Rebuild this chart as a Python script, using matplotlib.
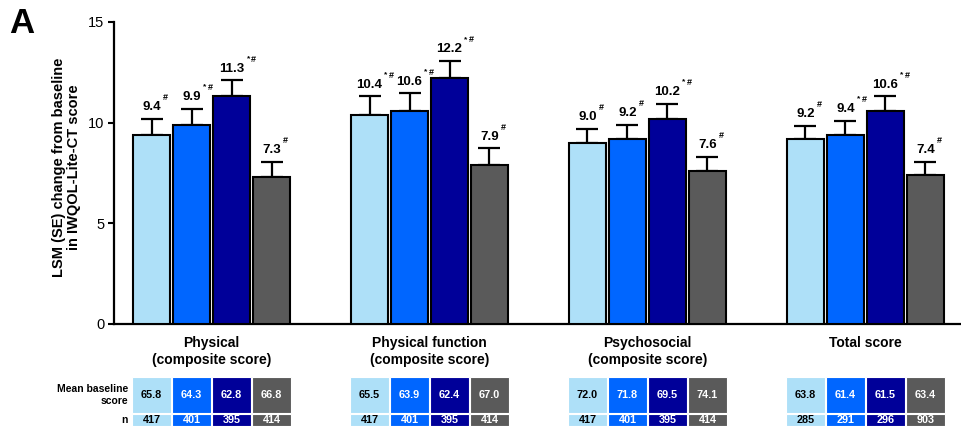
import numpy as np
import matplotlib
matplotlib.use('Agg')
import matplotlib.pyplot as plt
from matplotlib.patches import Rectangle

plt.rcParams['font.family'] = ['Liberation Sans', 'DejaVu Sans']

# data
categories = ['Physical\n(composite score)', 'Physical function\n(composite score)',
              'Psychosocial\n(composite score)', 'Total score']
colors = ['#aee0f8', '#0066ff', '#000099', '#5a5a5a']

lsm = [[9.4, 9.9, 11.3, 7.3],
       [10.4, 10.6, 12.2, 7.9],
       [9.0, 9.2, 10.2, 7.6],
       [9.2, 9.4, 10.6, 7.4]]
se = [[0.8, 0.8, 0.8, 0.75],
      [0.9, 0.86, 0.87, 0.83],
      [0.7, 0.7, 0.75, 0.7],
      [0.65, 0.7, 0.7, 0.65]]
marks = [['#', '*#', '*#', '#'],
         ['*#', '*#', '*#', '#'],
         ['#', '#', '*#', '#'],
         ['#', '*#', '*#', '#']]

baseline = [[65.8, 64.3, 62.8, 66.8],
            [65.5, 63.9, 62.4, 67.0],
            [72.0, 71.8, 69.5, 74.1],
            [63.8, 61.4, 61.5, 63.4]]
n_pts = [[417, 401, 395, 414],
         [417, 401, 395, 414],
         [417, 401, 395, 414],
         [285, 291, 296, 903]]

# layout
group_gap = 5.45
offsets = np.array([-1.5, -0.5, 0.5, 1.5])
centers = np.arange(4) * group_gap
xlim = (-2.44, 18.74)

fig = plt.figure(figsize=(9.61, 4.34), dpi=100)
ax = fig.add_axes([0.1186, 0.2535, 0.8814, 0.6959])

for g in range(4):
    xs = centers[g] + offsets
    ax.bar(xs, lsm[g], width=0.925, color=colors, edgecolor='black', linewidth=1.5, zorder=3)
    ax.errorbar(xs, lsm[g], yerr=[np.zeros(4), se[g]], fmt='none', ecolor='black',
                elinewidth=1.6, capsize=8, capthick=1.6, zorder=2)
    for i in range(4):
        top = lsm[g][i] + se[g][i]
        txt = '%.1f' % lsm[g][i]
        ax.annotate(txt, (xs[i], top), xytext=(0, 4), textcoords='offset points',
                    ha='center', va='bottom', fontsize=9.5, fontweight='bold')
        # superscripts to the right of the number
        half = ((len(txt) - 1) * 0.556 + 0.278) * 9.5 / 2
        dx = half + 1.5
        if marks[g][i].startswith('*'):
            ax.annotate('*', (xs[i], top), xytext=(dx, 13), textcoords='offset points',
                        ha='left', va='bottom', fontsize=6, fontweight='bold')
            dx += 3.5
        ax.annotate('#', (xs[i], top), xytext=(dx, 12), textcoords='offset points',
                    ha='left', va='bottom', fontsize=6.5, fontweight='bold')

ax.set_xlim(*xlim)
ax.set_ylim(0, 15)
ax.set_yticks([0, 5, 10, 15])
ax.tick_params(axis='y', labelsize=10.5, length=4, width=1.5, pad=3)
ax.set_xticks(centers)
ax.set_xticklabels(categories, fontsize=10, fontweight='bold', linespacing=1.25)
ax.tick_params(axis='x', length=0, pad=9)
for s in ['top', 'right']:
    ax.spines[s].set_visible(False)
for s in ['left', 'bottom']:
    ax.spines[s].set_linewidth(1.6)
ax.set_ylabel('LSM (SE) change from baseline\nin IWQOL-Lite-CT score', fontsize=10.5,
              fontweight='bold', linespacing=1.1)
ax.yaxis.set_label_coords(-0.039, 0.52)

# tables
tab = fig.add_axes([0.1186, 0.0184, 0.8814, 0.1129])
tab.set_xlim(*xlim)
tab.set_ylim(0, 49)
tab.axis('off')
for g in range(4):
    xs = centers[g] + offsets
    for i in range(4):
        tc = 'black' if i == 0 else 'white'
        tab.add_patch(Rectangle((xs[i] - 0.49, 13), 0.98, 36, facecolor=colors[i],
                                edgecolor='white', linewidth=0.8))
        tab.add_patch(Rectangle((xs[i] - 0.49, 0), 0.98, 12.5, facecolor=colors[i],
                                edgecolor='white', linewidth=0.8))
        tab.text(xs[i], 31, '%.1f' % baseline[g][i], ha='center', va='center',
                 fontsize=7.8, fontweight='bold', color=tc)
        tab.text(xs[i], 6.2, str(n_pts[g][i]), ha='center', va='center',
                 fontsize=7.8, fontweight='bold', color=tc)

fig.text(128 / 961, 1 - 395 / 434, 'Mean baseline\nscore', ha='right', va='center',
         fontsize=7.5, fontweight='bold', linespacing=1.3)
fig.text(128 / 961, 1 - 420 / 434, 'n', ha='right', va='center',
         fontsize=7.5, fontweight='bold')

fig.text(0.01, 0.985, 'A', ha='left', va='top', fontsize=25, fontweight='bold')

fig.savefig('out.png', dpi=100)
